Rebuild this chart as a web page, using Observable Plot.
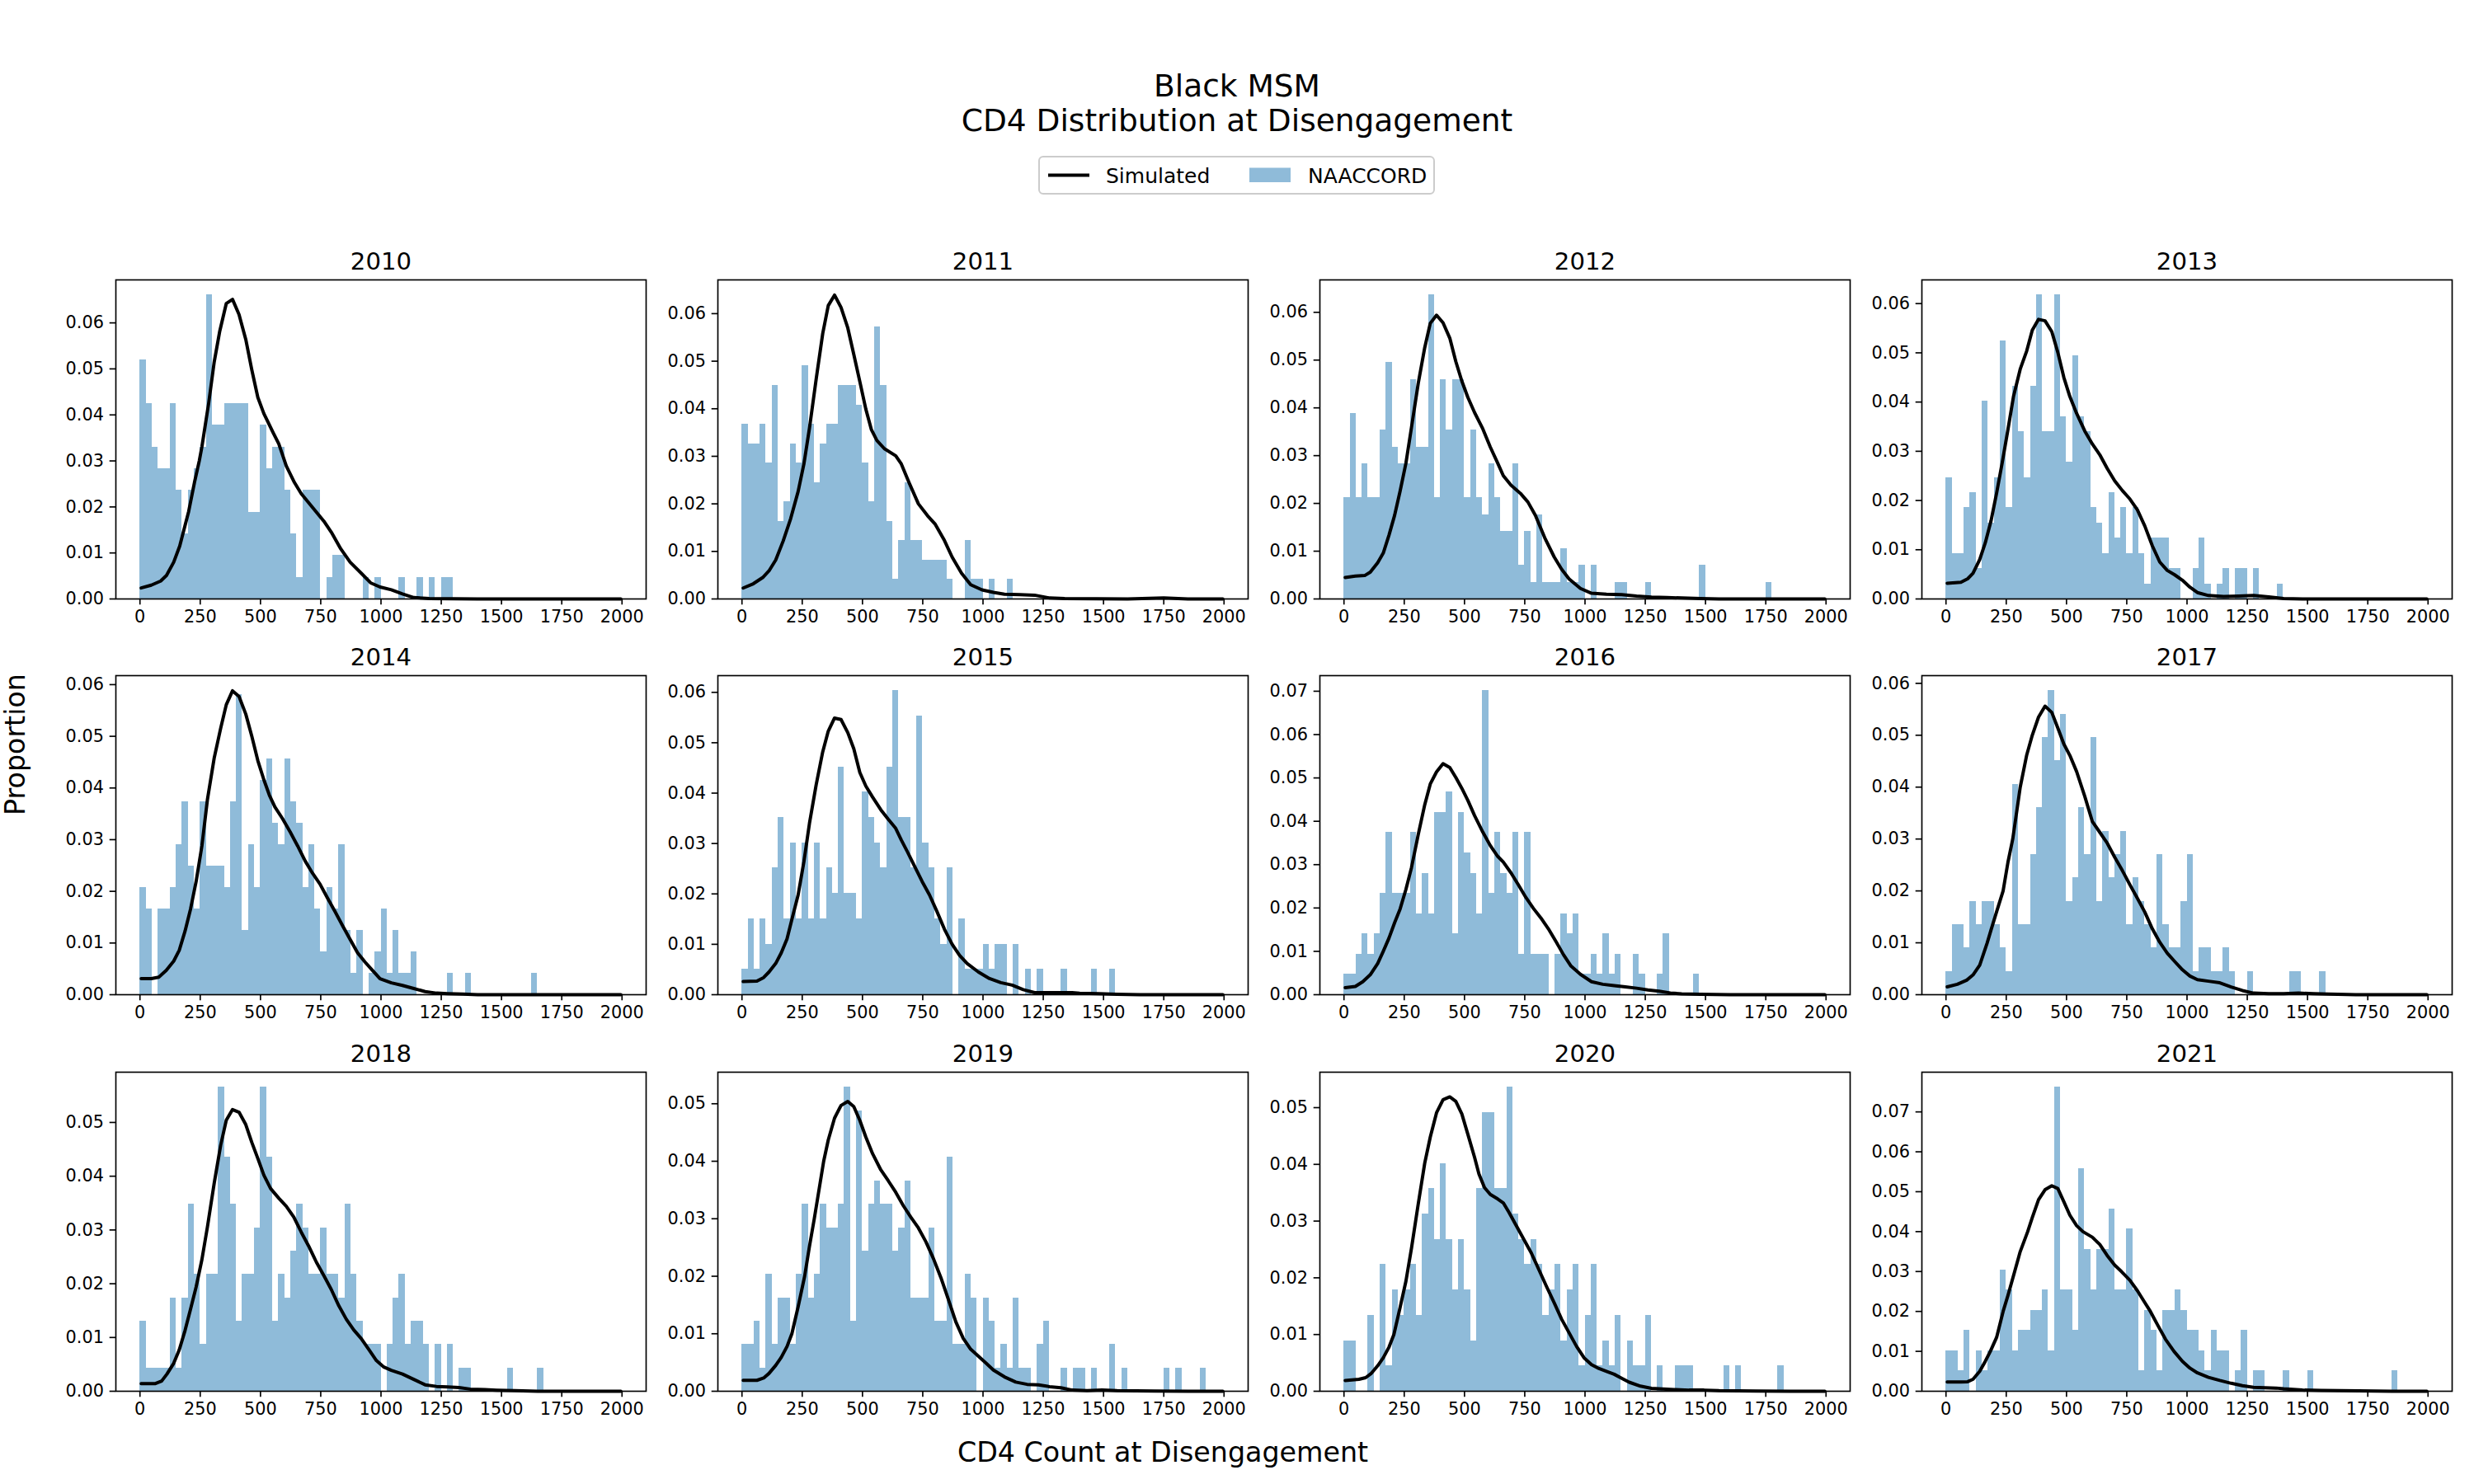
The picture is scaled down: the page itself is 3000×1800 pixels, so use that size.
<!DOCTYPE html>
<html>
<head>
<meta charset="utf-8">
<script src="https://cdn.jsdelivr.net/npm/d3@7"></script>
<script src="https://cdn.jsdelivr.net/npm/@observablehq/plot@0.6"></script>
<style>
  html, body { margin: 0; padding: 0; background: white; }
  #fig { position: relative; width: 3000px; height: 1800px; background: white; overflow: hidden;
         font-family: "DejaVu Sans", sans-serif; color: black; }
  .lbl { position: absolute; white-space: nowrap; line-height: 1; transform: translate(-50%, -50%); }
  .legend { position: absolute; box-sizing: border-box; border: 2px solid #cccccc; border-radius: 6px;
            background: white; font-size: 25px; line-height: 1; }
  .legend .txt { position: absolute; top: 50%; transform: translateY(-50%); white-space: nowrap; }
</style>
</head>
<body>
<div id="fig"></div>
<script>
// Years shown, one panel each (4 columns x 3 rows)
const years = [2010, 2011, 2012, 2013, 2014, 2015, 2016, 2017, 2018, 2019, 2020, 2021];

// NAACCORD observed CD4 counts at disengagement: patients per 25-cell bin, starting at 0
const binWidth = 25;
const counts2010 = [11,9,7,6,6,9,5,3,5,6, 7,14,8,8,9,9,9,9,4,4, 8,6,7,7,5,3,1,5,5,5, 0,1,2,2,0,0,0,1,0,1, 0,0,0,1,0,0,1,0,1,0, 1,1];
const counts2011 = [9,8,8,9,7,11,4,5,8,7, 12,9,6,8,9,9,11,11,11,10, 7,5,14,11,4,1,3,6,3,3, 2,2,2,2,1,0,0,3,1,1, 0,1,0,0,1];
const counts2012 = [6,11,6,8,6,6,10,14,9,8, 8,13,9,9,18,6,13,10,13,13, 6,10,6,5,8,6,4,4,8,2, 4,1,5,1,1,1,3,1,1,2, 0,2,0,0,0,1,1,0,0,0, 1,0,0,0,0,0,0,0,0,2, 0,0,0,0,0,0,0,0,0,0, 1];
const counts2013 = [8,3,3,6,7,2,13,5,8,17, 6,14,11,8,14,20,11,11,20,12, 9,16,12,11,6,5,3,7,4,6, 3,6,3,1,4,4,4,2,2,0, 0,2,4,1,0,1,2,0,2,2, 0,2,0,0,0,1];
const counts2014 = [5,4,0,4,4,5,7,9,6,4, 9,6,6,6,5,9,14,3,7,5, 10,11,8,7,11,9,8,5,7,4, 2,5,4,7,3,1,3,0,1,2, 4,1,3,1,1,2,0,0,0,0, 0,1,0,0,1,0,0,0,0,0, 0,0,0,0,0,1];
const counts2015 = [1,3,1,3,2,5,7,3,6,3, 6,3,6,3,5,4,9,4,4,3, 8,7,6,5,9,12,7,7,5,11, 6,5,3,2,5,0,3,1,1,1, 2,1,2,2,0,2,0,1,0,1, 0,0,0,1,0,0,0,0,1,0, 0,1];
const counts2016 = [1,1,2,3,2,3,5,8,5,5, 5,8,4,6,4,9,9,10,3,9, 7,6,4,15,5,8,6,5,8,2, 8,2,2,2,0,2,4,3,4,1, 1,2,1,3,1,2,0,0,2,1, 0,0,1,3,0,0,0,0,1];
const counts2017 = [1,3,3,2,4,3,4,4,3,2, 1,9,3,3,6,8,11,13,10,12, 4,5,8,6,11,4,7,5,6,7, 3,5,4,3,2,6,3,2,2,4, 6,1,2,2,1,1,2,1,0,0, 1,0,0,0,0,0,0,1,1,0, 0,0,1];
const counts2018 = [3,1,1,1,1,4,1,4,8,5, 2,5,5,13,10,8,3,5,5,7, 13,10,3,5,4,6,8,7,5,5, 7,5,5,4,8,5,3,2,2,2, 0,2,4,5,2,3,3,2,0,2, 0,2,0,1,1,0,0,0,0,0, 0,1,0,0,0,0,1];
const counts2019 = [2,2,3,1,5,2,4,4,2,5, 8,4,5,8,7,7,8,13,3,12, 6,8,9,8,8,6,7,9,4,4, 4,7,3,3,10,2,2,5,4,0, 4,3,1,2,1,4,1,1,0,2, 3,0,0,1,0,1,1,0,1,0, 0,2,0,1,0,0,0,0,0,0, 1,0,1,0,0,0,1];
const counts2020 = [2,2,0,0,3,0,5,1,4,3, 4,5,3,7,8,6,9,6,4,6, 4,2,8,11,11,8,8,12,7,6, 5,6,5,3,4,5,2,4,5,1, 3,5,1,2,1,3,0,2,1,1, 3,0,1,0,0,1,1,1,0,0, 0,0,0,1,0,1,0,0,0,0, 0,0,1];
const counts2021 = [2,2,1,3,0,2,1,2,2,6, 5,2,3,3,4,4,5,2,15,5, 5,3,11,7,5,7,7,9,5,5, 8,5,1,4,3,1,4,4,5,4, 3,3,2,1,3,2,2,0,1,3, 0,1,1,0,0,0,1,0,0,0, 1,0,0,0,0,0,0,0,0,0, 0,0,0,0,1];

// Simulated density curves: [CD4 count, proportion]
const sim2010 = [[5,0.0024],[47,0.0030],[86,0.0039],[110,0.0051],[140,0.0080],[165,0.0115],[202,0.0190],[226,0.0253],[246,0.0300],[257,0.0331],[285,0.0425],[308,0.0515],[331,0.0582],[358,0.0642],[384,0.0651],[411,0.0618],[439,0.0564],[464,0.0498],[489,0.0438],[514,0.0403],[553,0.0361],[576,0.0337],[607,0.0289],[641,0.0253],[669,0.0229],[716,0.0199],[763,0.0169],[794,0.0145],[833,0.0109],[872,0.0080],[918,0.0056],[957,0.0035],[996,0.0026],[1043,0.0020],[1089,0.0011],[1136,0.0003],[1200,0.0001],[1400,0],[1995,0]];
const sim2011 = [[5,0.0023],[47,0.0032],[86,0.0045],[112,0.0059],[140,0.0082],[171,0.0122],[202,0.0169],[233,0.0226],[257,0.0284],[280,0.0359],[308,0.0463],[335,0.0558],[358,0.0617],[384,0.0639],[411,0.0613],[439,0.0570],[464,0.0514],[489,0.0457],[514,0.0399],[537,0.0356],[560,0.0333],[591,0.0316],[638,0.0301],[661,0.0284],[693,0.0245],[732,0.0200],[770,0.0175],[802,0.0157],[840,0.0123],[872,0.0088],[911,0.0054],[949,0.0030],[996,0.0019],[1043,0.0014],[1089,0.0010],[1152,0.0009],[1214,0.0008],[1276,0.0002],[1339,0.0001],[1600,0],[1750,0.0002],[1850,0],[1995,0]];
const sim2012 = [[5,0.0045],[47,0.0048],[86,0.0049],[109,0.0056],[140,0.0076],[163,0.0096],[187,0.0134],[210,0.0175],[233,0.0226],[257,0.0284],[280,0.0359],[308,0.0451],[335,0.0526],[358,0.0577],[384,0.0594],[411,0.0578],[439,0.0546],[464,0.0497],[489,0.0456],[514,0.0422],[542,0.0390],[576,0.0356],[607,0.0318],[638,0.0284],[661,0.0258],[693,0.0238],[732,0.0221],[763,0.0203],[794,0.0175],[833,0.0128],[872,0.0088],[903,0.0062],[934,0.0042],[981,0.0022],[1027,0.0012],[1089,0.0010],[1152,0.0009],[1214,0.0006],[1276,0.0004],[1339,0.0003],[1401,0.0002],[1479,0.0001],[1556,0],[1995,0]];
const sim2013 = [[5,0.0032],[62,0.0034],[90,0.0041],[112,0.0052],[140,0.0080],[163,0.0114],[187,0.0159],[210,0.0215],[233,0.0276],[257,0.0344],[280,0.0411],[308,0.0467],[335,0.0504],[358,0.0546],[384,0.0568],[411,0.0565],[439,0.0543],[464,0.0501],[489,0.0450],[514,0.0411],[542,0.0377],[576,0.0341],[607,0.0315],[638,0.0293],[669,0.0265],[700,0.0240],[732,0.0220],[763,0.0203],[794,0.0181],[825,0.0148],[856,0.0108],[887,0.0075],[918,0.0058],[949,0.0049],[981,0.0038],[1012,0.0024],[1043,0.0013],[1089,0.0007],[1152,0.0005],[1214,0.0006],[1276,0.0007],[1339,0.0004],[1401,0.0001],[1479,0],[1995,0]];
const sim2014 = [[5,0.0031],[47,0.0031],[78,0.0034],[109,0.0047],[140,0.0065],[163,0.0086],[187,0.0123],[210,0.0166],[233,0.0219],[257,0.0288],[280,0.0378],[308,0.0458],[335,0.0516],[358,0.0561],[384,0.0588],[411,0.0577],[439,0.0543],[464,0.0500],[489,0.0453],[514,0.0416],[537,0.0386],[560,0.0363],[591,0.0341],[623,0.0315],[654,0.0288],[685,0.0259],[716,0.0235],[747,0.0214],[778,0.0187],[809,0.0161],[840,0.0134],[872,0.0107],[903,0.0081],[934,0.0063],[965,0.0047],[996,0.0031],[1043,0.0023],[1089,0.0018],[1136,0.0012],[1183,0.0006],[1230,0.0003],[1276,0.0002],[1339,0.0001],[1401,0],[1995,0]];
const sim2015 = [[5,0.0026],[62,0.0027],[90,0.0034],[112,0.0045],[140,0.0062],[163,0.0083],[187,0.0111],[210,0.0155],[233,0.0198],[257,0.0264],[280,0.0340],[308,0.0417],[335,0.0482],[358,0.0523],[384,0.0549],[411,0.0546],[439,0.0520],[464,0.0488],[489,0.0441],[514,0.0414],[542,0.0392],[576,0.0367],[607,0.0348],[638,0.0330],[661,0.0307],[685,0.0285],[716,0.0255],[747,0.0225],[778,0.0198],[809,0.0165],[840,0.0130],[872,0.0100],[903,0.0078],[934,0.0062],[981,0.0045],[1027,0.0032],[1074,0.0024],[1121,0.0019],[1167,0.0010],[1214,0.0004],[1261,0.0004],[1323,0.0004],[1370,0.0004],[1401,0.0003],[1479,0.0002],[1556,0.0001],[1650,0],[1995,0]];
const sim2016 = [[5,0.0016],[47,0.0019],[78,0.0030],[109,0.0046],[140,0.0072],[163,0.0100],[187,0.0131],[210,0.0166],[233,0.0198],[257,0.0243],[280,0.0293],[308,0.0369],[335,0.0438],[358,0.0486],[384,0.0514],[411,0.0533],[439,0.0524],[464,0.0501],[489,0.0476],[514,0.0448],[542,0.0413],[576,0.0375],[607,0.0344],[638,0.0319],[661,0.0306],[693,0.0281],[724,0.0253],[755,0.0224],[786,0.0199],[817,0.0177],[848,0.0152],[879,0.0123],[911,0.0092],[942,0.0066],[981,0.0047],[1027,0.0030],[1074,0.0024],[1121,0.0021],[1167,0.0018],[1214,0.0015],[1261,0.0011],[1307,0.0008],[1354,0.0004],[1401,0.0002],[1479,0.0001],[1600,0],[1995,0]];
const sim2017 = [[5,0.0015],[47,0.0020],[86,0.0028],[112,0.0038],[140,0.0057],[171,0.0100],[187,0.0125],[210,0.0160],[237,0.0200],[257,0.0255],[277,0.0300],[308,0.0400],[335,0.0462],[358,0.0500],[384,0.0535],[411,0.0556],[439,0.0544],[464,0.0514],[489,0.0483],[514,0.0461],[542,0.0430],[576,0.0382],[607,0.0334],[638,0.0313],[669,0.0292],[700,0.0265],[732,0.0239],[763,0.0212],[794,0.0186],[825,0.0159],[856,0.0127],[887,0.0101],[918,0.0080],[949,0.0064],[981,0.0048],[1012,0.0036],[1043,0.0029],[1089,0.0026],[1136,0.0023],[1183,0.0015],[1230,0.0008],[1276,0.0003],[1339,0.0002],[1401,0.0002],[1463,0.0003],[1525,0.0002],[1588,0.0001],[1700,0],[1995,0]];
const sim2018 = [[5,0.0014],[62,0.0014],[90,0.0019],[112,0.0032],[140,0.0052],[163,0.0077],[187,0.0113],[210,0.0153],[233,0.0194],[257,0.0245],[280,0.0306],[308,0.0387],[335,0.0458],[358,0.0504],[384,0.0524],[411,0.0519],[439,0.0496],[464,0.0463],[489,0.0433],[514,0.0402],[542,0.0377],[576,0.0359],[607,0.0344],[638,0.0324],[669,0.0296],[700,0.0270],[732,0.0240],[763,0.0215],[794,0.0189],[825,0.0159],[856,0.0134],[887,0.0114],[918,0.0098],[949,0.0078],[981,0.0057],[1012,0.0045],[1043,0.0039],[1089,0.0032],[1136,0.0022],[1183,0.0012],[1230,0.0009],[1276,0.0008],[1323,0.0007],[1370,0.0004],[1432,0.0003],[1479,0.0002],[1556,0.0001],[1650,0],[1995,0]];
const sim2019 = [[5,0.0019],[62,0.0019],[90,0.0023],[112,0.0031],[140,0.0045],[163,0.0059],[187,0.0078],[207,0.0100],[233,0.0147],[260,0.0200],[280,0.0252],[300,0.0300],[339,0.0400],[358,0.0437],[384,0.0475],[411,0.0497],[439,0.0504],[464,0.0495],[489,0.0471],[514,0.0442],[542,0.0413],[576,0.0385],[607,0.0366],[638,0.0346],[669,0.0323],[700,0.0303],[732,0.0284],[763,0.0260],[794,0.0231],[825,0.0198],[856,0.0160],[887,0.0121],[918,0.0092],[949,0.0073],[981,0.0061],[1012,0.0049],[1043,0.0037],[1089,0.0025],[1136,0.0016],[1183,0.0012],[1230,0.0011],[1276,0.0008],[1323,0.0006],[1370,0.0002],[1432,0.0001],[1494,0.0002],[1556,0.0001],[1712,0.00005],[1850,0],[1995,0]];
const sim2020 = [[5,0.0019],[62,0.0021],[90,0.0024],[112,0.0031],[140,0.0045],[163,0.0059],[187,0.0078],[207,0.0100],[233,0.0148],[257,0.0194],[280,0.0252],[308,0.0330],[335,0.0402],[358,0.0448],[384,0.0491],[411,0.0514],[439,0.0519],[464,0.0511],[489,0.0489],[514,0.0453],[542,0.0412],[560,0.0383],[583,0.0359],[607,0.0347],[638,0.0339],[661,0.0332],[685,0.0315],[716,0.0291],[747,0.0267],[778,0.0243],[809,0.0214],[840,0.0185],[872,0.0156],[903,0.0127],[934,0.0103],[965,0.0079],[996,0.0059],[1027,0.0047],[1058,0.0040],[1089,0.0035],[1121,0.0030],[1152,0.0023],[1183,0.0016],[1230,0.0009],[1276,0.0005],[1323,0.0004],[1370,0.0003],[1432,0.0002],[1494,0.0002],[1556,0.0001],[1712,0.00005],[1850,0],[1995,0]];
const sim2021 = [[5,0.0023],[62,0.0023],[90,0.0024],[112,0.0030],[140,0.0050],[163,0.0075],[184,0.0100],[210,0.0135],[237,0.0200],[257,0.0240],[285,0.0300],[308,0.0350],[339,0.0400],[358,0.0435],[384,0.0480],[411,0.0505],[439,0.0515],[464,0.0508],[489,0.0475],[514,0.0441],[542,0.0415],[568,0.0400],[607,0.0386],[638,0.0368],[669,0.0340],[700,0.0316],[728,0.0300],[763,0.0278],[794,0.0252],[825,0.0222],[848,0.0200],[879,0.0165],[911,0.0130],[946,0.0100],[981,0.0075],[1012,0.0058],[1043,0.0046],[1089,0.0035],[1136,0.0027],[1183,0.0020],[1230,0.0014],[1276,0.0010],[1323,0.0009],[1370,0.0008],[1401,0.0006],[1479,0.0003],[1556,0.0002],[1712,0.0001],[1850,0],[1995,0]];

const naaccordCounts = [counts2010, counts2011, counts2012, counts2013, counts2014, counts2015,
                        counts2016, counts2017, counts2018, counts2019, counts2020, counts2021];
const simulated = [sim2010, sim2011, sim2012, sim2013, sim2014, sim2015,
                   sim2016, sim2017, sim2018, sim2019, sim2020, sim2021];

// Axis ticks
const xTicks = [0, 250, 500, 750, 1000, 1250, 1500, 1750, 2000];
const yTickStep = 0.01;

// Text
const titleLines = ["Black MSM", "CD4 Distribution at Disengagement"];
const legendLabels = ["Simulated", "NAACCORD"];
const xLabel = "CD4 Count at Disengagement";
const yLabel = "Proportion";

// Colours
const barColor = "#8fbbd9";   // tab:blue at 50% over white
const lineColor = "#000000";

// Layout (pixels)
const frameLefts = [140, 870, 1600, 2330];
const frameTops = [338.5, 819, 1299.5];
const frameW = 643, frameH = 387;
const mL = 80, mR = 8, mT = 52, mB = 48;
const spineW = 1.67, tickLen = 7.3, curveW = 4;

const fig = document.getElementById("fig");

function addLabel(text, cx, cy, size, extra = "") {
  const d = document.createElement("div");
  d.className = "lbl";
  d.textContent = text;
  d.style.left = cx + "px";
  d.style.top = cy + "px";
  d.style.fontSize = size + "px";
  if (extra) d.style.transform = "translate(-50%, -50%) " + extra;
  fig.appendChild(d);
}

// Figure title (two lines)
addLabel(titleLines[0], 1500, 105, 37.5);
addLabel(titleLines[1], 1500, 147, 37.5);

// Legend
const leg = document.createElement("div");
leg.className = "legend";
Object.assign(leg.style, {left: "1259px", top: "189px", width: "481px", height: "47px"});
leg.innerHTML = `
  <svg width="481" height="47" style="position:absolute;left:-2px;top:-2px">
    <line x1="12" x2="62" y1="23.5" y2="23.5" stroke="${lineColor}" stroke-width="${curveW}"/>
    <rect x="256" y="14.5" width="50" height="17.5" fill="${barColor}"/>
  </svg>
  <div class="txt" style="left:80px">${legendLabels[0]}</div>
  <div class="txt" style="left:325px">${legendLabels[1]}</div>`;
fig.appendChild(leg);

// Shared axis labels
addLabel(xLabel, 1410, 1762, 33.3);
addLabel(yLabel, 19, 903, 33.3, "rotate(-90deg)");

// One histogram + density panel per year
years.forEach((year, i) => {
  const counts = naaccordCounts[i];
  const total = d3.sum(counts);
  const bins = counts
    .map((c, k) => ({x1: k * binWidth, x2: (k + 1) * binWidth, share: c / total}))
    .filter(d => d.share > 0);
  const sim = simulated[i].map(([x, y]) => ({x, y}));
  const yMax = 1.05 * Math.max(d3.max(bins, d => d.share), d3.max(sim, d => d.y));
  const yTicks = d3.range(0, yMax, yTickStep);

  const chart = Plot.plot({
    width: mL + frameW + mR,
    height: mT + frameH + mB,
    marginLeft: mL, marginRight: mR, marginTop: mT, marginBottom: mB,
    x: {domain: [-100, 2100], label: null},
    y: {domain: [0, yMax], label: null},
    style: {fontFamily: "DejaVu Sans, sans-serif", fontSize: "20.8px", color: "black",
            background: "transparent", overflow: "visible"},
    marks: [
      Plot.rectY(bins, {x1: "x1", x2: "x2", y: "share", fill: barColor, inset: 0, shapeRendering: "crispEdges"}),
      Plot.line(sim, {x: "x", y: "y", stroke: lineColor, strokeWidth: curveW, strokeLinejoin: "round"}),
      Plot.axisX({ticks: xTicks, tickFormat: "d", tickSize: tickLen, tickPadding: 6,
                  strokeWidth: spineW, label: null, fontSize: 20.8}),
      Plot.axisY({ticks: yTicks, tickFormat: ".2f", tickSize: tickLen, tickPadding: 7.3,
                  strokeWidth: spineW, label: null, fontSize: 20.8}),
      Plot.frame({stroke: "black", strokeWidth: spineW}),
      Plot.text([year], {text: d => String(d), frameAnchor: "top", lineAnchor: "bottom",
                         dy: -13, fontSize: 29.2})
    ]
  });
  const col = i % 4, row = Math.floor(i / 4);
  chart.style.position = "absolute";
  chart.style.left = (frameLefts[col] - mL) + "px";
  chart.style.top = (frameTops[row] - mT) + "px";
  chart.style.maxWidth = "none";
  fig.appendChild(chart);
});
</script>
</body>
</html>
